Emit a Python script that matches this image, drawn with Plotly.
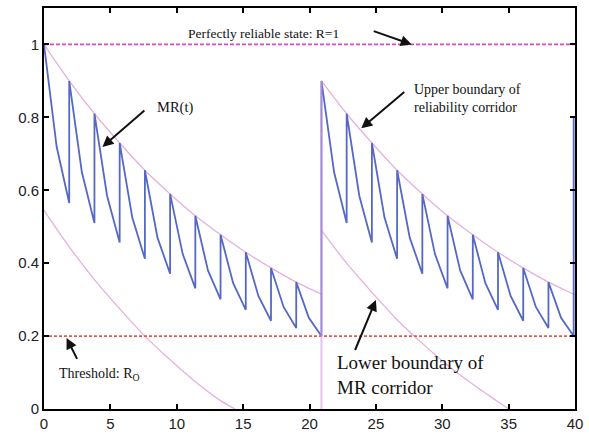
import plotly.graph_objects as go

# ---------------- data ----------------
period = 1.9
# first corridor: 11 maintenance cycles starting at t=0
cycle_start_1 = [0.0, 1.9, 3.8, 5.7, 7.6, 9.5, 11.4, 13.3, 15.2, 17.1, 19.0]
peak_1 = [1.0, 0.90, 0.81, 0.73, 0.655, 0.59, 0.53, 0.478, 0.43, 0.387, 0.348]
mid_1 = [0.72, 0.65, 0.585, 0.525, 0.47, 0.425, 0.38, 0.345, 0.31, 0.28, 0.25]
trough_1 = [0.565, 0.51, 0.457, 0.412, 0.371, 0.331, 0.301, 0.272, 0.242, 0.222, 0.2]
# second corridor: 10 cycles starting at the reset time
cycle_start_2 = [20.9, 22.8, 24.7, 26.6, 28.5, 30.4, 32.3, 34.2, 36.1, 38.0]
peak_2 = [0.90, 0.81, 0.73, 0.655, 0.59, 0.53, 0.478, 0.43, 0.387, 0.348]
mid_2 = [0.65, 0.585, 0.525, 0.47, 0.425, 0.38, 0.345, 0.31, 0.28, 0.25]
trough_2 = [0.51, 0.457, 0.412, 0.371, 0.331, 0.301, 0.272, 0.242, 0.222, 0.2]
end_time = 39.9
end_jump = 0.80
reset_time = 20.9
reset_level = 0.90

ub1_t = [0, 1.9, 3.8, 5.7, 7.6, 9.5, 11.4, 13.3, 15.2, 17.1, 19.0, 20.9]
ub1_y = [1.0, 0.90, 0.81, 0.73, 0.655, 0.59, 0.53, 0.478, 0.43, 0.387, 0.348, 0.315]
ub2_t = [20.9, 22.8, 24.7, 26.6, 28.5, 30.4, 32.3, 34.2, 36.1, 38.0, 39.9, 40.0]
ub2_y = [0.90, 0.81, 0.73, 0.655, 0.59, 0.53, 0.478, 0.43, 0.387, 0.348, 0.315, 0.313]
lb1_t = [0, 1.9, 3.8, 5.7, 7.6, 9.5, 11.4, 13.3, 14.4]
lb1_y = [0.545, 0.445, 0.355, 0.275, 0.2, 0.135, 0.075, 0.023, 0.0]
lb2_t = [20.9, 22.8, 24.7, 26.6, 28.5, 30.4, 32.3, 34.2, 35.0]
lb2_y = [0.49, 0.40, 0.32, 0.245, 0.18, 0.12, 0.068, 0.02, 0.0]

perfect_level = 1.0
threshold_level = 0.2

x_ticks = [0, 5, 10, 15, 20, 25, 30, 35, 40]
y_ticks = [0, 0.2, 0.4, 0.6, 0.8, 1]

# ---------------- build MR(t) polyline ----------------
mr_t, mr_y = [], []
for starts, pk, md, tr in [(cycle_start_1, peak_1, mid_1, trough_1),
                           (cycle_start_2, peak_2, mid_2, trough_2)]:
    for s, p, m, q in zip(starts, pk, md, tr):
        mr_t += [s, s + period / 2, s + period]
        mr_y += [p, m, q]
mr_t += [end_time]
mr_y += [end_jump]

BLUE = "#5568c6"
PINK = "#e6b0de"

fig = go.Figure()
# boundaries
for tt, yy in [(ub1_t, ub1_y), (ub2_t, ub2_y), (lb1_t, lb1_y), (lb2_t, lb2_y)]:
    fig.add_trace(go.Scatter(x=tt, y=yy, mode="lines", line=dict(color=PINK, width=1.3, shape="spline"),
                             hoverinfo="skip", showlegend=False))
# perfect and threshold lines
fig.add_trace(go.Scatter(x=[0, 40], y=[perfect_level] * 2, mode="lines",
                         line=dict(color="#d14cc4", width=1.8, dash="4px,2px"), showlegend=False))
fig.add_trace(go.Scatter(x=[0, 40], y=[threshold_level] * 2, mode="lines",
                         line=dict(color="#e8584f", width=1.8, dash="3px,2px"), showlegend=False))
# MR(t)
fig.add_trace(go.Scatter(x=mr_t, y=mr_y, mode="lines", line=dict(color=BLUE, width=1.8),
                         showlegend=False))
# reset vertical
fig.add_trace(go.Scatter(x=[reset_time, reset_time], y=[0, reset_level], mode="lines",
                         line=dict(color="rgba(215,160,225,0.65)", width=2), showlegend=False))

TXT = dict(family="Liberation Serif, Times New Roman, serif", color="#111")

def label(x, y, text, size=14):
    fig.add_annotation(x=x, y=y, text=text, showarrow=False, xanchor="left", yanchor="middle",
                       align="left", font=dict(size=size, **TXT))

def arrow(x, y, ax, ay):
    fig.add_annotation(x=x, y=y, text=" ", showarrow=True, ax=ax, ay=ay, arrowhead=2,
                       arrowsize=1.1, arrowwidth=2, arrowcolor="#111", font=dict(size=2))

label(10.7, 1.03, "Perfectly reliable state: R=1", 13.5)
arrow(27.7, 1.0, -40, -14)
label(8.35, 0.826, "MR(t)", 14.5)
arrow(4.4, 0.719, 44, -38)
label(27.75, 0.851, "Upper boundary of<br>reliability corridor", 14)
arrow(23.9, 0.77, 45, -38)
label(0.95, 0.096, "Threshold: R<sub>O</sub>", 14)
arrow(1.7, 0.195, 12, 24)
label(21.9, 0.092, "Lower boundary of<br>MR corridor", 19)
arrow(25.0, 0.299, -22, 53)

axis_common = dict(showgrid=False, zeroline=False, showline=True, linecolor="black", linewidth=2,
                   mirror="ticks", ticks="inside", ticklen=5, tickwidth=2, tickcolor="black",
                   tickfont=dict(family="Liberation Sans, Arial, sans-serif", size=15, color="#222"))
fig.update_xaxes(range=[0, 40], tickvals=x_ticks, **axis_common)
fig.update_yaxes(range=[0, 1.1], tickvals=y_ticks, **axis_common)
fig.update_layout(width=589, height=438, margin=dict(l=44, r=12, t=6, b=26),
                  plot_bgcolor="white", paper_bgcolor="white", showlegend=False)

fig.write_html("out.html")
